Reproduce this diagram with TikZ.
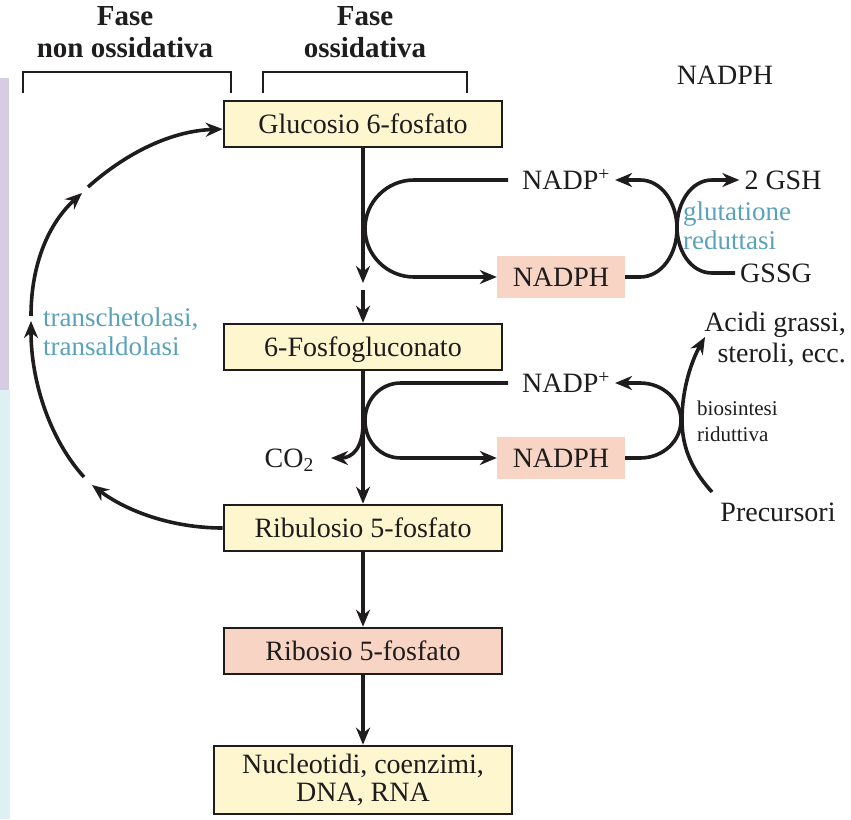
\documentclass[tikz,border=0pt]{standalone}
\usepackage{fontspec}
\setmainfont{Liberation Serif}
\usetikzlibrary{arrows.meta}

\definecolor{boxyellow}{RGB}{254,246,206}
\definecolor{boxsalmon}{RGB}{248,212,196}
\definecolor{enzblue}{RGB}{90,162,186}
\definecolor{lavender}{RGB}{214,204,228}
\definecolor{palecyan}{RGB}{222,240,243}
\definecolor{ink}{RGB}{30,28,28}

\begin{document}
\begin{tikzpicture}
  [
    >={Stealth[length=17pt,width=14pt]},
    x=1pt, y=-1pt,
    every node/.style={text=ink},
    flow/.style={draw=ink, line width=3.6pt},
    bracket/.style={draw=ink, line width=2.2pt},
    pool/.style={draw=ink, line width=2.6pt, fill=boxyellow, inner sep=0pt, font=\fontsize{28}{28}\selectfont},
    metabolite/.style={pool, minimum width=278pt, minimum height=46pt, text height=19pt, text depth=0pt},
    product/.style={metabolite, fill=boxsalmon},
    cofactor/.style={fill=boxsalmon, minimum width=128pt, minimum height=42pt, inner sep=0pt, text height=19pt, text depth=0pt, font=\fontsize{28}{32}\selectfont},
    chem/.style={inner xsep=5pt, inner ysep=0pt, text height=19pt, text depth=0pt, font=\fontsize{28}{32}\selectfont},
    enzyme/.style={text=enzblue, align=left, inner sep=0pt, font=\fontsize{27}{29}\selectfont},
    phase/.style={align=center, inner sep=0pt, font=\fontsize{29}{32}\selectfont\bfseries},
  ]
  \useasboundingbox (0,0) rectangle (851,819);

  % strips on the left margin
  \fill [lavender] (0,78) rectangle (9,390);
  \fill [palecyan] (0,390) rectangle (10,819);

  % phase headers
  \node (fase non) [phase, anchor=north] at (125,6) {Fase\\non ossidativa};
  \node (fase ox) [phase, anchor=north] at (365,6) {Fase\\ossidativa};
  \draw [bracket] (23,93) -- (23,72) -- (231,72) -- (231,93);
  \draw [bracket] (263,93) -- (263,72) -- (467,72) -- (467,93);
  \node (nadph top) [chem] at (725,75) {NADPH};

  % main pathway
  \node (g6p) [metabolite] at (363,124) {Glucosio 6-fosfato};
  \node (pg6) [metabolite] at (363,347) {6-Fosfogluconato};
  \node (ru5p) [metabolite] at (363,528) {Ribulosio 5-fosfato};
  \node (r5p) [product] at (363,651) {Ribosio 5-fosfato};
  \node (nuc) [pool, minimum width=298pt, minimum height=68pt, align=center] at (363,780) {Nucleotidi, coenzimi,\\DNA, RNA};

  \coordinate (stub top) at (363,283);
  \coordinate (stub bot) at (363,290);
  \draw [flow,->] (g6p) -- (stub top);
  \draw [flow,->] (stub bot) -- (pg6);
  \draw [flow,->] (pg6) -- (ru5p);
  \draw [flow,->] (ru5p) -- (r5p);
  \draw [flow,->] (r5p) -- (nuc);

  \node (co2) [chem, anchor=east, inner xsep=17pt] at (331,458) {CO\textsubscript{2}};
  \coordinate (co2 fork) at (363,424);
  \draw [flow,->] (co2 fork) .. controls (363,448) and (352,458) .. (co2.east);

  % first NADPH cycle: glutathione
  \node (nadp1) [chem] at (566,180) {NADP\textsuperscript{+}};
  \node (nadph1) [cofactor] at (561,277) {NADPH};
  \node (gsh) [chem] at (783,180) {2 GSH};
  \node (gssg) [chem] at (776,273) {GSSG};
  \node (glut) [enzyme, anchor=west] at (683,226) {glutatione\\reduttasi};
  \coordinate (loop1) at (508,180);
  \draw [flow,->] (loop1) -- (414,180) .. controls (387,180) and (365,202) .. (365,228.5)
    .. controls (365,255) and (387,277) .. (414,277) -- (nadph1);
  \draw [flow,->] (nadph1) -- (640,277) .. controls (661,277) and (677,255) .. (677,228.5)
    .. controls (677,202) and (661,180) .. (640,180) -- (nadp1);
  \draw [flow,->] (gssg) -- (712,273) .. controls (691,273) and (677,251) .. (677,227)
    .. controls (677,203) and (691,180) .. (712,180) -- (gsh);

  % second NADPH cycle: reductive biosynthesis
  \node (nadp2) [chem] at (566,383) {NADP\textsuperscript{+}};
  \node (nadph2) [cofactor] at (561,458) {NADPH};
  \coordinate (loop2) at (508,383);
  \draw [flow,->] (loop2) -- (401,383) .. controls (380,383) and (365,400) .. (365,420.5)
    .. controls (365,441) and (380,458) .. (401,458) -- (nadph2);
  \draw [flow,->] (nadph2) -- (640,458) .. controls (663,458) and (681,441) .. (681,420.5)
    .. controls (681,400) and (663,383) .. (640,383) -- (nadp2);

  \node (acidi) [inner sep=0pt, anchor=east, align=right, font=\fontsize{28}{31}\selectfont] at (846,339) {Acidi grassi,\\steroli, ecc.};
  \node (bios) [enzyme, text=ink, anchor=west, font=\fontsize{21}{26}\selectfont] at (697,421) {biosintesi\\riduttiva};
  \node (prec) [chem] at (778,512) {Precursori};
  \coordinate (bio start) at (712,492);
  \coordinate (bio end) at (705,337);
  \draw [flow,->] (bio start) .. controls (690,468) and (682,445) .. (682,420)
    .. controls (682,388) and (692,360) .. (bio end);

  % non oxidative return to glucose 6-phosphate
  \coordinate (rc1) at (92,485);
  \coordinate (rc2) at (84,477);
  \coordinate (rc3) at (31,321);
  \coordinate (rc4) at (31,316);
  \coordinate (rc5) at (82,193);
  \coordinate (rc6) at (88,187);
  \draw [flow,->] (ru5p) .. controls (170,528) and (125,510) .. (rc1);
  \draw [flow,->] (rc2) .. controls (52,442) and (31,385) .. (rc3);
  \draw [flow,->] (rc4) .. controls (31,262) and (50,222) .. (rc5);
  \draw [flow,->] (rc6) .. controls (125,154) and (170,131) .. (g6p);
  \node (tk) [enzyme, anchor=west] at (43,332) {transchetolasi,\\transaldolasi};

\end{tikzpicture}
\end{document}
